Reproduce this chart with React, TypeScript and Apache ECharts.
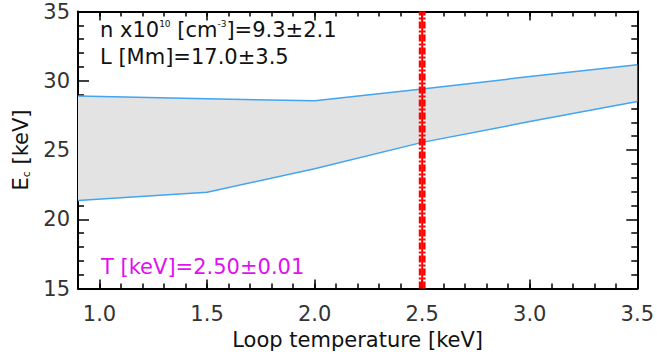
import React, { useEffect, useRef } from "react";
import * as echarts from "echarts";

// Loop temperature grid [keV] and the bounds of the cutoff energy E_c [keV]
const temperatures = [0.9, 1.5, 2.0, 2.5, 3.0, 3.5];
const upperEc = [28.9, 28.7, 28.55, 29.4, 30.3, 31.15];
const lowerEc = [21.35, 21.95, 23.65, 25.55, 27.05, 28.5];

// Fitted temperature and its uncertainty [keV]
const tempFit = 2.5;
const tempErr = 0.01;

// Axis ranges and ticks
const xRange = [0.9, 3.5];
const yRange = [15, 35];
const xMajorTicks = [1.0, 1.5, 2.0, 2.5, 3.0, 3.5];
const xMinorTicks = [
  1.0, 1.1, 1.2, 1.3, 1.4, 1.5, 1.6, 1.7, 1.8, 1.9, 2.0, 2.1, 2.2, 2.3, 2.4,
  2.5, 2.6, 2.7, 2.8, 2.9, 3.0, 3.1, 3.2, 3.3, 3.4, 3.5,
];

// Annotation texts
const densityText = "n x10{sup|10} [cm{sup|-3}]=9.3±2.1";
const lengthText = "L [Mm]=17.0±3.5";
const tempText = "T [keV]=2.50±0.01";
const xTitle = "Loop temperature [keV]";
const yTitle = "E{sub|c} [keV]";

const FONT = "DejaVu Sans";
const INK = "#111";
const FS = 21;

export default function App() {
  const ref = useRef<HTMLDivElement>(null);

  useEffect(() => {
    document.body.style.margin = "0";
    if (!ref.current) return;
    const chart = echarts.init(ref.current, undefined, { renderer: "svg" });

    const xBase = {
      type: "value" as const,
      min: xRange[0],
      max: xRange[1],
      splitLine: { show: false },
    };
    const yBase = {
      type: "value" as const,
      min: yRange[0],
      max: yRange[1],
      interval: 5,
      splitLine: { show: false },
    };
    const frameLine = {
      show: true,
      onZero: false,
      lineStyle: { color: "#000", width: 2 },
    };
    const tickStyle = { color: "#000", width: 1.5 };

    const lowerPts = temperatures.map((t, i) => [t, lowerEc[i]]);
    const upperPts = temperatures.map((t, i) => [t, upperEc[i]]);
    const bandRows = temperatures.map((t, i) => [t, lowerEc[i], upperEc[i]]);

    const vline = (x: number) => [
      [x, yRange[0]],
      [x, yRange[1]],
    ];

    chart.setOption({
      animation: false,
      backgroundColor: "#fff",
      grid: { left: 78, right: 16, top: 11.5, bottom: 68.5 },
      xAxis: [
        {
          ...xBase,
          position: "bottom",
          axisLine: frameLine,
          axisTick: {
            show: true,
            inside: true,
            length: 9,
            customValues: xMajorTicks,
            lineStyle: tickStyle,
          },
          axisLabel: {
            show: true,
            customValues: xMajorTicks,
            formatter: (v: number) => v.toFixed(1),
            fontFamily: FONT,
            fontSize: FS,
            color: "#333",
            margin: 15,
          },
          name: xTitle,
          nameLocation: "middle",
          nameGap: 37,
          nameTextStyle: { fontFamily: FONT, fontSize: FS, color: INK },
        },
        {
          ...xBase,
          position: "bottom",
          axisLine: { show: false, onZero: false },
          axisTick: {
            show: true,
            inside: true,
            length: 5,
            customValues: xMinorTicks,
            lineStyle: tickStyle,
          },
          axisLabel: { show: false },
        },
        {
          ...xBase,
          position: "top",
          axisLine: frameLine,
          axisTick: {
            show: true,
            inside: true,
            length: 9,
            customValues: xMajorTicks,
            lineStyle: tickStyle,
          },
          axisLabel: { show: false },
        },
        {
          ...xBase,
          position: "top",
          axisLine: { show: false, onZero: false },
          axisTick: {
            show: true,
            inside: true,
            length: 5,
            customValues: xMinorTicks,
            lineStyle: tickStyle,
          },
          axisLabel: { show: false },
        },
      ],
      yAxis: [
        {
          ...yBase,
          position: "left",
          axisLine: frameLine,
          axisTick: { show: true, inside: true, length: 11, lineStyle: tickStyle },
          minorTick: { show: true, splitNumber: 5, length: 6, lineStyle: tickStyle },
          axisLabel: {
            show: true,
            fontFamily: FONT,
            fontSize: FS,
            color: "#333",
            margin: 8,
            padding: [8, 0, 0, 0],
          },
        },
        {
          ...yBase,
          position: "right",
          axisLine: frameLine,
          axisTick: { show: true, inside: true, length: 11, lineStyle: tickStyle },
          minorTick: { show: true, splitNumber: 5, length: 6, lineStyle: tickStyle },
          axisLabel: { show: false },
        },
      ],
      series: [
        {
          // shaded region between the lower and upper E_c bounds
          type: "custom",
          name: "band",
          data: bandRows,
          encode: { x: 0, y: [1, 2] },
          clip: true,
          silent: true,
          z: 1,
          renderItem: (params: any, api: any) => {
            if (params.dataIndex !== 0) return null;
            const top = bandRows.map((r) => api.coord([r[0], r[2]]));
            const bottom = bandRows
              .slice()
              .reverse()
              .map((r) => api.coord([r[0], r[1]]));
            return {
              type: "polygon",
              shape: { points: top.concat(bottom) },
              style: { fill: "#e3e3e3", stroke: "none" },
            };
          },
        },
        {
          type: "line",
          name: "upperEdge",
          data: upperPts,
          symbol: "none",
          z: 3,
          lineStyle: { color: "#42a5f0", width: 1.5 },
        },
        {
          type: "line",
          name: "lowerEdge",
          data: lowerPts,
          symbol: "none",
          z: 3,
          lineStyle: { color: "#42a5f0", width: 1.5 },
        },
        {
          type: "line",
          name: "Tminus",
          data: vline(tempFit - tempErr),
          symbol: "none",
          z: 4,
          lineStyle: { color: "#ff0000", width: 2.5, type: [7, 2, 2, 2] },
        },
        {
          type: "line",
          name: "Tfit",
          data: vline(tempFit),
          symbol: "none",
          z: 4,
          lineStyle: { color: "#ff0000", width: 2 },
        },
        {
          type: "line",
          name: "Tplus",
          data: vline(tempFit + tempErr),
          symbol: "none",
          z: 4,
          lineStyle: { color: "#ff0000", width: 2.5, type: [7, 2, 2, 2] },
        },
      ],
      graphic: [
        {
          type: "text",
          left: 100,
          top: 19,
          style: {
            text: densityText,
            fontFamily: FONT,
            fontSize: FS,
            fill: INK,
            rich: {
              sup: { fontSize: 9, verticalAlign: "top", fontFamily: FONT, fill: INK },
            },
          },
        },
        {
          type: "text",
          left: 100,
          top: 46,
          style: { text: lengthText, fontFamily: FONT, fontSize: FS, fill: INK },
        },
        {
          type: "text",
          left: 101,
          top: 256,
          style: { text: tempText, fontFamily: FONT, fontSize: FS, fill: "#e010f0" },
        },
        {
          type: "text",
          x: 21,
          y: 150,
          rotation: Math.PI / 2,
          style: {
            text: yTitle,
            fontFamily: FONT,
            fontSize: FS,
            fill: INK,
            align: "center",
            verticalAlign: "middle",
            rich: {
              sub: { fontSize: 11, verticalAlign: "bottom", fontFamily: FONT, fill: INK },
            },
          },
        },
      ],
    });

    return () => chart.dispose();
  }, []);

  return <div ref={ref} style={{ width: 657, height: 357 }} />;
}
